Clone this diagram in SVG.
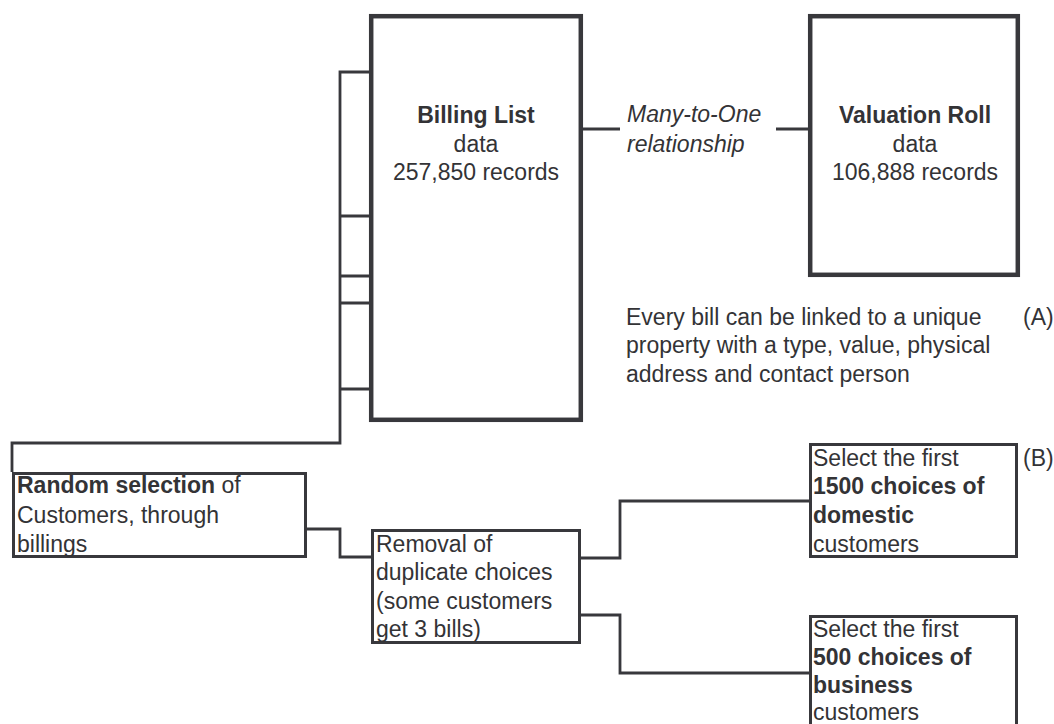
<svg xmlns="http://www.w3.org/2000/svg" width="1054" height="724" viewBox="0 0 1054 724">
<style>
text{font-family:"Liberation Sans",Arial,Helvetica,sans-serif;font-size:23px;fill:#333336}
.b{font-weight:bold}
.i{font-style:italic}
.c{text-anchor:middle}
.big{fill:#fff;stroke:#38383c;stroke-width:4.5}
.box{fill:#fff;stroke:#38383c;stroke-width:3}
.con{fill:none;stroke:#38383c;stroke-width:2.8}
</style>
<rect width="1054" height="724" fill="#fff"/>
<g id="connectors">
<path class="con" d="M369 72H340V443H12V472"/>
<path class="con" d="M340 216H369M340 276H369M340 303H369M340 389H369"/>
<path class="con" d="M583 129H620M776 129H808"/>
<path class="con" d="M307 529H340V557H371"/>
<path class="con" d="M581 558H620V501H809"/>
<path class="con" d="M581 615H620V673H809"/>
</g>
<g id="billing">
<rect class="big" x="371.2" y="16.2" width="209.6" height="403.6"/>
<text class="c b" x="476" y="123">Billing List</text>
<text class="c" x="476" y="152">data</text>
<text class="c" x="476" y="180">257,850 records</text>
</g>
<g id="valuation">
<rect class="big" x="810.2" y="16.2" width="207.6" height="258.6"/>
<text class="c b" x="915" y="123">Valuation Roll</text>
<text class="c" x="915" y="152">data</text>
<text class="c" x="915" y="180">106,888 records</text>
</g>
<g id="relationship">
<text class="i" x="627" y="122">Many-to-One</text>
<text class="i" x="627" y="152">relationship</text>
</g>
<g id="note-a">
<text x="626" y="325">Every bill can be linked to a unique</text>
<text x="626" y="353">property with a type, value, physical</text>
<text x="626" y="382">address and contact person</text>
<text x="1023" y="325">(A)</text>
</g>
<g id="random">
<rect class="box" x="13.5" y="473.5" width="292" height="83"/>
<text x="17" y="493"><tspan class="b">Random selection</tspan> of</text>
<text x="17" y="523">Customers, through</text>
<text x="17" y="552">billings</text>
</g>
<g id="removal">
<rect class="box" x="372.5" y="530.5" width="207" height="112"/>
<text x="376" y="552">Removal of</text>
<text x="376" y="580">duplicate choices</text>
<text x="376" y="609">(some customers</text>
<text x="376" y="637">get 3 bills)</text>
</g>
<g id="domestic">
<rect class="box" x="810.5" y="444.5" width="206" height="112"/>
<text x="813" y="466">Select the first</text>
<text class="b" x="813" y="494">1500 choices of</text>
<text class="b" x="813" y="523">domestic</text>
<text x="813" y="552">customers</text>
<text x="1023" y="466">(B)</text>
</g>
<g id="business">
<rect class="box" x="810.5" y="616.5" width="206" height="130"/>
<text x="813" y="637">Select the first</text>
<text class="b" x="813" y="665">500 choices of</text>
<text class="b" x="813" y="693">business</text>
<text x="813" y="720">customers</text>
</g>
</svg>
